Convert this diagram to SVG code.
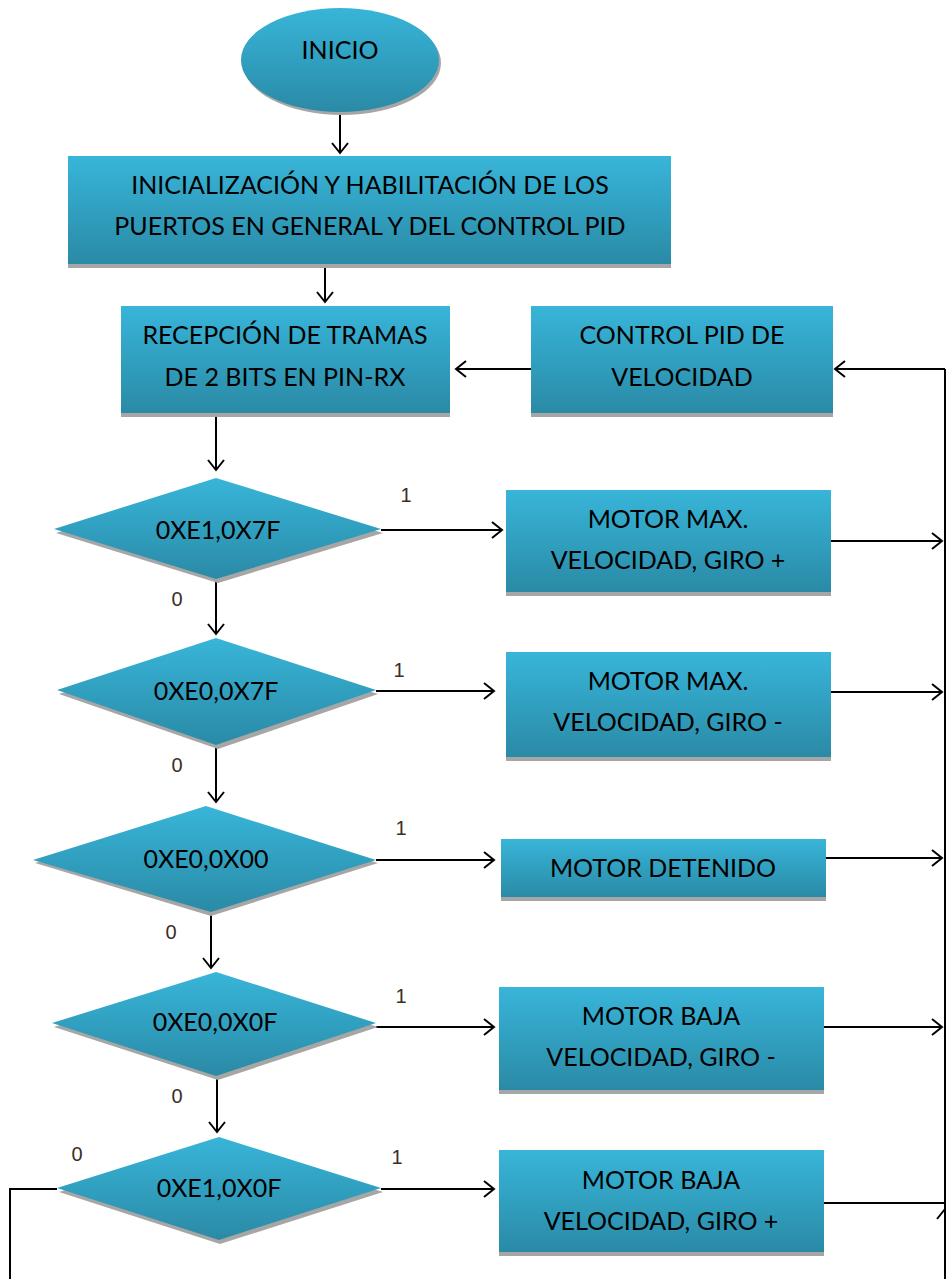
<svg xmlns="http://www.w3.org/2000/svg" width="946" height="1279" viewBox="0 0 946 1279">
<style>
.box{fill:url(#g)}
.sh{fill:#a6a6a6}
.t{font-family:Lato,"Open Sans","Liberation Sans",sans-serif;font-size:25px;fill:#000;text-anchor:middle}
.l{font-family:"Liberation Sans",Arial,sans-serif;font-size:20px;fill:#3b2e1e;text-anchor:middle}
.c{fill:none;stroke:#000;stroke-width:2}
</style>
<defs>
<linearGradient id="g" x1="0" y1="0" x2="0" y2="1">
<stop offset="0" stop-color="#38b5d9"/>
<stop offset="1" stop-color="#2a8aa6"/>
</linearGradient>
<marker id="a" markerWidth="14" markerHeight="20" refX="12" refY="10" orient="auto" markerUnits="userSpaceOnUse">
<path d="M2,2 L12,10 L2,18" fill="none" stroke="#000" stroke-width="2"/>
</marker>
</defs>
<g id="connectors">
<path class="c" d="M340,112 V153" marker-end="url(#a)"/>
<path class="c" d="M325,264 V302" marker-end="url(#a)"/>
<path class="c" d="M531,369 H456" marker-end="url(#a)"/>
<path class="c" d="M945,369 H835" marker-end="url(#a)"/>
<path class="c" d="M945,369 V1279"/>
<path class="c" d="M216,413 V470" marker-end="url(#a)"/>
<path class="c" d="M381,530 H502" marker-end="url(#a)"/>
<path class="c" d="M216,579 V634" marker-end="url(#a)"/>
<path class="c" d="M831,541 H942" marker-end="url(#a)"/>
<path class="c" d="M376,691 H494" marker-end="url(#a)"/>
<path class="c" d="M216,745 V802" marker-end="url(#a)"/>
<path class="c" d="M831,692 H942" marker-end="url(#a)"/>
<path class="c" d="M376,860 H494" marker-end="url(#a)"/>
<path class="c" d="M211,912 V968" marker-end="url(#a)"/>
<path class="c" d="M826,858 H942" marker-end="url(#a)"/>
<path class="c" d="M376,1027 H494" marker-end="url(#a)"/>
<path class="c" d="M217,1076 V1132" marker-end="url(#a)"/>
<path class="c" d="M824,1027 H942" marker-end="url(#a)"/>
<path class="c" d="M381,1189 H494" marker-end="url(#a)"/>
<path class="c" d="M57,1189 H10 V1279"/>
<path class="c" d="M824,1203 H945"/>
<path class="c" d="M945,1240 V1209" marker-end="url(#a)"/>
<text class="l" x="406" y="502">1</text>
<text class="l" x="177" y="606">0</text>
<text class="l" x="399" y="677">1</text>
<text class="l" x="177" y="772">0</text>
<text class="l" x="401" y="835">1</text>
<text class="l" x="171" y="939">0</text>
<text class="l" x="401" y="1003">1</text>
<text class="l" x="177" y="1103">0</text>
<text class="l" x="77" y="1161">0</text>
<text class="l" x="397" y="1164">1</text>
</g>
<g id="inicio">
<ellipse cx="342" cy="63" rx="99" ry="52" class="sh"/>
<ellipse cx="340" cy="60" rx="99" ry="52" class="box"/>
<text class="t" x="340" y="59">INICIO</text>
</g>
<g id="init">
<rect x="68" y="160" width="603" height="108" class="sh"/>
<rect x="68" y="156" width="603" height="108" class="box"/>
<text class="t" x="370" y="194">INICIALIZACIÓN Y HABILITACIÓN DE LOS</text>
<text class="t" x="370" y="235">PUERTOS EN GENERAL Y DEL CONTROL PID</text>
</g>
<g id="recepcion">
<rect x="121" y="310" width="329" height="107" class="sh"/>
<rect x="121" y="306" width="329" height="107" class="box"/>
<text class="t" x="285" y="344">RECEPCIÓN DE TRAMAS</text>
<text class="t" x="285" y="386">DE 2 BITS EN PIN-RX</text>
</g>
<g id="pid">
<rect x="531" y="310" width="302" height="107" class="sh"/>
<rect x="531" y="306" width="302" height="107" class="box"/>
<text class="t" x="682" y="344">CONTROL PID DE</text>
<text class="t" x="682" y="386">VELOCIDAD</text>
</g>
<g id="d1">
<polygon points="56,533 218,483 383,533 218,583" class="sh"/>
<polygon points="54,529 216,478 381,529 216,579" class="box"/>
<text class="t" x="218" y="539">0XE1,0X7F</text>
</g>
<g id="m1">
<rect x="506" y="494" width="325" height="102" class="sh"/>
<rect x="506" y="490" width="325" height="102" class="box"/>
<text class="t" x="668" y="528">MOTOR MAX.</text>
<text class="t" x="668" y="569">VELOCIDAD, GIRO +</text>
</g>
<g id="d2">
<polygon points="59,694 218,643 378,694 218,749" class="sh"/>
<polygon points="57,690 216,638 376,690 216,745" class="box"/>
<text class="t" x="216" y="700">0XE0,0X7F</text>
</g>
<g id="m2">
<rect x="506" y="656" width="325" height="105" class="sh"/>
<rect x="506" y="652" width="325" height="105" class="box"/>
<text class="t" x="668" y="690">MOTOR MAX.</text>
<text class="t" x="668" y="731">VELOCIDAD, GIRO -</text>
</g>
<g id="d3">
<polygon points="35,863 207,810 378,863 211,916" class="sh"/>
<polygon points="33,860 206,806 376,860 211,912" class="box"/>
<text class="t" x="206" y="868">0XE0,0X00</text>
</g>
<g id="m3">
<rect x="501" y="843" width="325" height="58" class="sh"/>
<rect x="501" y="839" width="325" height="58" class="box"/>
<text class="t" x="663" y="877">MOTOR DETENIDO</text>
</g>
<g id="d4">
<polygon points="54,1027 218,976 378,1027 218,1080" class="sh"/>
<polygon points="52,1023 216,972 376,1023 216,1076" class="box"/>
<text class="t" x="215" y="1031">0XE0,0X0F</text>
</g>
<g id="m4">
<rect x="499" y="991" width="325" height="103" class="sh"/>
<rect x="499" y="987" width="325" height="103" class="box"/>
<text class="t" x="661" y="1025">MOTOR BAJA</text>
<text class="t" x="661" y="1066">VELOCIDAD, GIRO -</text>
</g>
<g id="d5">
<polygon points="59,1192 220,1141 383,1192 220,1244" class="sh"/>
<polygon points="57,1188 219,1137 381,1188 219,1240" class="box"/>
<text class="t" x="219" y="1197">0XE1,0X0F</text>
</g>
<g id="m5">
<rect x="499" y="1154" width="325" height="102" class="sh"/>
<rect x="499" y="1150" width="325" height="102" class="box"/>
<text class="t" x="661" y="1189">MOTOR BAJA</text>
<text class="t" x="661" y="1230">VELOCIDAD, GIRO +</text>
</g>
</svg>
